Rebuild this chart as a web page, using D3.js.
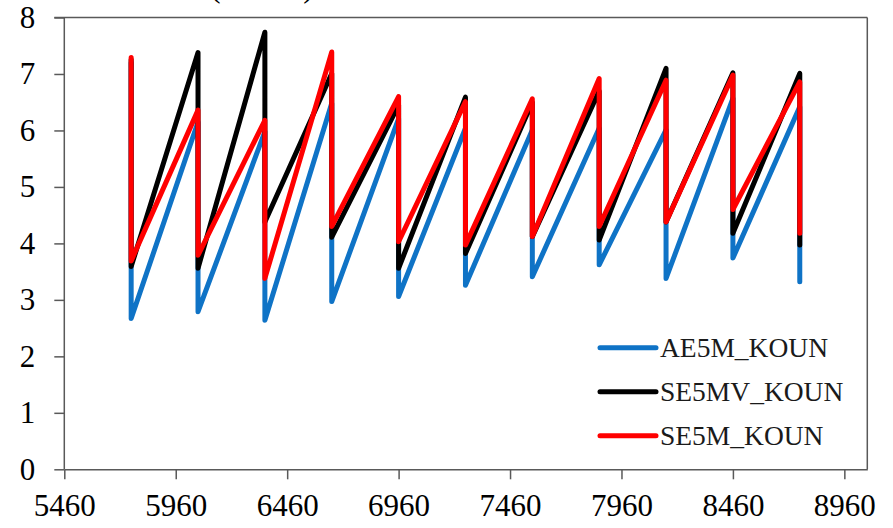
<!DOCTYPE html>
<html>
<head>
<meta charset="utf-8">
<script src="https://cdn.jsdelivr.net/npm/d3@7"></script>
<style>
  html, body { margin: 0; padding: 0; background: #fff; }
  svg { display: block; font-family: "Liberation Serif", "Times New Roman", serif; }
</style>
</head>
<body>
<script>
// Reset times (x) where every series drops from its peak to its trough
const times = [5760, 6060, 6360, 6660, 6960, 7260, 7560, 7860, 8160, 8460, 8760];

// Tick labels
const xTicks = [5460, 5960, 6460, 6960, 7460, 7960, 8460, 8960];
const yTicks = [0, 1, 2, 3, 4, 5, 6, 7, 8];

// Series names
const seriesNames = ['AE5M_KOUN', 'SE5MV_KOUN', 'SE5M_KOUN'];

// Value just before each drop (first one is the starting value)
const aePeaks   = [7.20, 6.15, 5.98, 6.48, 6.21, 6.04, 6.01, 6.04, 6.01, 6.57, 6.42];
const semvPeaks = [7.25, 7.38, 7.74, 7.01, 6.45, 6.59, 6.50, 6.70, 7.10, 7.02, 7.01];
const sePeaks   = [7.29, 6.36, 6.18, 7.39, 6.60, 6.51, 6.56, 6.92, 6.89, 6.98, 6.86];

// Value right after each drop
const aeTroughs   = [2.67, 2.79, 2.64, 2.97, 3.06, 3.26, 3.41, 3.62, 3.38, 3.74, 3.32];
const semvTroughs = [3.59, 3.56, 4.38, 4.11, 3.56, 3.82, 4.12, 4.06, 4.38, 4.18, 3.97];
const seTroughs   = [3.69, 3.79, 3.38, 4.30, 4.03, 3.97, 4.12, 4.30, 4.38, 4.60, 4.18];

(function() {

  const width = 893, height = 528;
  const colors = ['#0f73c6', '#000000', '#ff0000'];
  const axisColor = '#595959';

  const svg = d3.select('body').append('svg')
    .attr('width', width)
    .attr('height', height);

  // Scales
  const x = d3.scaleLinear().domain([5460, 9063]).range([64.3, 867.3]);
  const y = d3.scaleLinear().domain([0, 8]).range([469.3, 17.5]);

  // Cropped title at the very top (only the tails of the brackets show)
  svg.append('text')
    .attr('x', 262)
    .attr('y', -3)
    .attr('text-anchor', 'middle')
    .attr('font-size', 31)
    .text('(mm/hr)');

  // Plot frame (top + right)
  svg.append('line')
    .attr('x1', x.range()[0] - 10).attr('x2', x.range()[1])
    .attr('y1', y(8)).attr('y2', y(8))
    .attr('stroke', axisColor).attr('stroke-width', 1.5);
  svg.append('line')
    .attr('x1', x.range()[1]).attr('x2', x.range()[1])
    .attr('y1', y(8)).attr('y2', y(0))
    .attr('stroke', axisColor).attr('stroke-width', 1.5);

  // X axis
  const gx = svg.append('g')
    .attr('transform', `translate(0,${y(0)})`)
    .call(d3.axisBottom(x).tickValues(xTicks).tickFormat(d3.format('d'))
      .tickSize(10).tickSizeOuter(0).tickPadding(15));

  // Y axis
  const gy = svg.append('g')
    .attr('transform', `translate(${x.range()[0]},0)`)
    .call(d3.axisLeft(y).tickValues(yTicks).tickFormat(d3.format('d'))
      .tickSize(10).tickSizeOuter(0).tickPadding(19));

  // the 0 tick runs along the x axis, so extend the bottom line left
  [gx, gy].forEach(g => {
    g.select('.domain').attr('stroke', axisColor).attr('stroke-width', 1.5);
    g.selectAll('.tick line').attr('stroke', axisColor).attr('stroke-width', 1.5);
    g.selectAll('.tick text')
      .attr('font-family', '"Liberation Serif", "Times New Roman", serif')
      .attr('font-size', 31)
      .attr('fill', '#000');
  });
  gy.select('.domain').remove();
  svg.append('line')
    .attr('x1', x.range()[0]).attr('x2', x.range()[0])
    .attr('y1', y(8)).attr('y2', y(0))
    .attr('stroke', axisColor).attr('stroke-width', 1.5);

  // Build sawtooth point lists: peak then trough at each reset time
  function sawtooth(peaks, troughs) {
    const pts = [];
    times.forEach((t, i) => {
      pts.push([t, peaks[i]]);
      pts.push([t, troughs[i]]);
    });
    return pts;
  }

  const series = [
    sawtooth(aePeaks, aeTroughs),
    sawtooth(semvPeaks, semvTroughs),
    sawtooth(sePeaks, seTroughs)
  ];

  const line = d3.line()
    .x(d => x(d[0]))
    .y(d => y(d[1]));

  svg.append('g').selectAll('path')
    .data(series)
    .enter().append('path')
    .attr('d', line)
    .attr('fill', 'none')
    .attr('stroke', (d, i) => colors[i])
    .attr('stroke-width', 5)
    .attr('stroke-linejoin', 'round')
    .attr('stroke-linecap', 'round');

  // Legend
  const legend = svg.append('g').attr('transform', 'translate(600,347.7)');
  const item = legend.selectAll('g')
    .data(seriesNames)
    .enter().append('g')
    .attr('transform', (d, i) => `translate(0,${i * 44})`);

  item.append('line')
    .attr('x1', 0).attr('x2', 56)
    .attr('stroke', (d, i) => colors[i])
    .attr('stroke-width', 5)
    .attr('stroke-linecap', 'round');

  item.append('text')
    .attr('x', 60)
    .attr('dy', '0.35em')
    .attr('font-size', 27.5)
    .attr('fill', '#1a1a1a')
    .text(d => d);

})();
</script>
</body>
</html>
